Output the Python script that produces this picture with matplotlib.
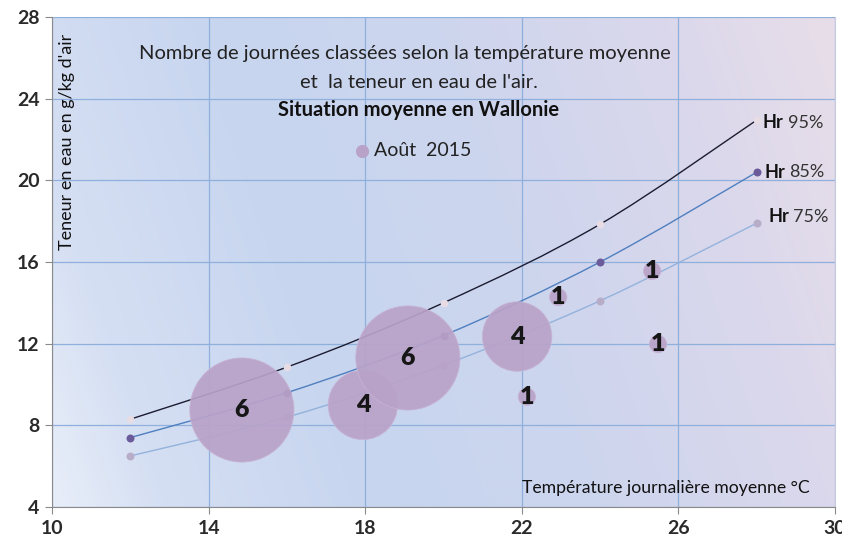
import matplotlib
matplotlib.use('Agg')
import matplotlib.pyplot as plt
import numpy as np
from matplotlib.colors import LinearSegmentedColormap
from matplotlib.path import Path
from matplotlib.patches import PathPatch

# ---- data ----
temps = [12, 16, 20, 24, 28]
hr95 = [8.3, 10.85, 14.0, 17.85, 22.95]
hr85 = [7.4, 9.6, 12.4, 16.0, 20.4]
hr75 = [6.5, 8.4, 10.95, 14.1, 17.9]
hr_names = ['95%', '85%', '75%']

bubble_t = [14.85, 17.94, 19.09, 21.88, 22.13, 22.93, 25.33, 25.48]
bubble_w = [8.75, 9.0, 11.3, 12.35, 9.4, 14.28, 15.56, 11.98]
bubble_n = [6, 4, 6, 4, 1, 1, 1, 1]

xticks = [10, 14, 18, 22, 26, 30]
yticks = [4, 8, 12, 16, 20, 24, 28]

title1 = "Nombre de journées classées selon la température moyenne"
title2 = "et  la teneur en eau de l'air."
title3 = "Situation moyenne en Wallonie"
legend_label = "Août  2015"
xlabel = "Température journalière moyenne °C"
ylabel = "Teneur en eau en g/kg d'air"

W, H = 842, 539
fig = plt.figure(figsize=(W / 100, H / 100), dpi=100)
fig.patch.set_facecolor('white')

L, R, T, B = 52, 835, 17, 507
ax = fig.add_axes([L / W, 1 - B / H, (R - L) / W, (B - T) / H])

CAL = ['Lato', 'DejaVu Sans']

# background gradient
cmap = LinearSegmentedColormap.from_list('bg', [
    (0.0, '#e8eef9'), (0.12, '#d5dff3'), (0.35, '#c7d5ef'), (0.6, '#cdd5ee'),
    (0.85, '#dbd8ec'), (1.0, '#e6dde9')])
u = np.linspace(0, 1, 300)
v = np.linspace(0, 1, 200)
U, V = np.meshgrid(u, v)
tgrad = 0.85 * U + 0.18 * V
ax.imshow(tgrad, cmap=cmap, extent=[0, 1, 0, 1], origin='lower',
          transform=ax.transAxes, aspect='auto', zorder=0, vmin=0, vmax=1)

ax.set_xlim(10, 30)
ax.set_ylim(4, 28)
ax.set_xticks(xticks)
ax.set_yticks(yticks)
ax.grid(True, color='#8fb0dc', lw=0.9, zorder=1)
ax.spines['top'].set_visible(False)
ax.spines['right'].set_color('#c8cbe0')
ax.spines['left'].set_color('#8a8a8a')
ax.spines['bottom'].set_color('#8a8a8a')
ax.tick_params(length=5, color='#8a8a8a', labelsize=14, pad=4)
for lab in ax.get_xticklabels() + ax.get_yticklabels():
    lab.set_family(CAL)
    lab.set_fontweight('bold')
    lab.set_color('#2a2a2a')


def smooth_line(xs, ys, color):
    """Draw an Excel-style smoothed line through the series points."""
    pts = np.column_stack([xs, ys]).astype(float)
    ext = np.vstack([pts[0], pts, pts[-1]])
    verts = [tuple(pts[0])]
    codes = [Path.MOVETO]
    for i in range(len(pts) - 1):
        p0, p1, p2, p3 = ext[i], ext[i + 1], ext[i + 2], ext[i + 3]
        c1 = p1 + (p2 - p0) / 6.0
        c2 = p2 - (p3 - p1) / 6.0
        verts += [tuple(c1), tuple(c2), tuple(p2)]
        codes += [Path.CURVE4] * 3
    ax.add_patch(PathPatch(Path(verts, codes), fill=False, edgecolor=color,
                           lw=1.0, zorder=3))


# humidity curves
smooth_line(temps, hr95, '#1c1c30')
ax.scatter(temps, hr95, s=30, color='#e8dce4', zorder=3, linewidths=0)
smooth_line(temps, hr85, '#4f7fbf')
ax.scatter(temps, hr85, s=33, color='#6b5b9b', zorder=3, linewidths=0)
smooth_line(temps, hr75, '#93b2dc')
ax.scatter(temps, hr75, s=33, color='#b7adc9', zorder=3, linewidths=0)

# bubbles
sizes = [(12.5 * n) ** 2 for n in bubble_n]
ax.scatter(bubble_t, bubble_w, s=sizes, color='#b9a2c8', alpha=0.92,
           edgecolors='#c7b4d3', linewidths=0.6, zorder=4)
for t, w, n in zip(bubble_t, bubble_w, bubble_n):
    ax.text(t, w, str(n), ha='center', va='center', fontsize=18,
            fontweight='heavy', color='#161616', family=CAL, zorder=5)

# curve labels: bold "Hr" + regular percentage
fig.canvas.draw()
renderer = fig.canvas.get_renderer()
label_pos = [(763, 123), (764, 172), (768, 217)]
for (px, py), name in zip(label_pos, hr_names):
    t1 = fig.text(px / W, 1 - py / H, 'Hr', ha='left', va='center',
                  fontsize=13, fontweight='bold', family=CAL, color='#111111')
    bb = t1.get_window_extent(renderer)
    fig.text(bb.x1 / W + 4 / W, 1 - py / H, name, ha='left', va='center',
             fontsize=13, family=CAL, color='#333333')

# titles
fig.text(405 / W, 1 - 53 / H, title1, ha='center', va='center', fontsize=14.5,
         family=CAL, color='#222222')
fig.text(419 / W, 1 - 82 / H, title2, ha='center', va='center', fontsize=14.5,
         family=CAL, color='#222222')
fig.text(419 / W, 1 - 110 / H, title3, ha='center', va='center', fontsize=14.5,
         family=CAL, color='#111111', fontweight='bold')

# legend
fig.text(374 / W, 1 - 151 / H, legend_label, ha='left', va='center',
         fontsize=14, family=CAL, color='#222222')
ax.scatter([(362 - L) / (R - L)], [1 - (151 - T) / (B - T)], s=90,
           color='#b9a2c8', transform=ax.transAxes, zorder=5, linewidths=0)

# axis labels inside plot area
fig.text(666 / W, 1 - 488 / H, xlabel, ha='center', va='center', fontsize=12.7,
         family=CAL, color='#111111')
fig.text(67 / W, 1 - 142 / H, ylabel, ha='center', va='center', fontsize=13,
         family=CAL, color='#111111', rotation=90)

fig.savefig('out.png', dpi=100)
